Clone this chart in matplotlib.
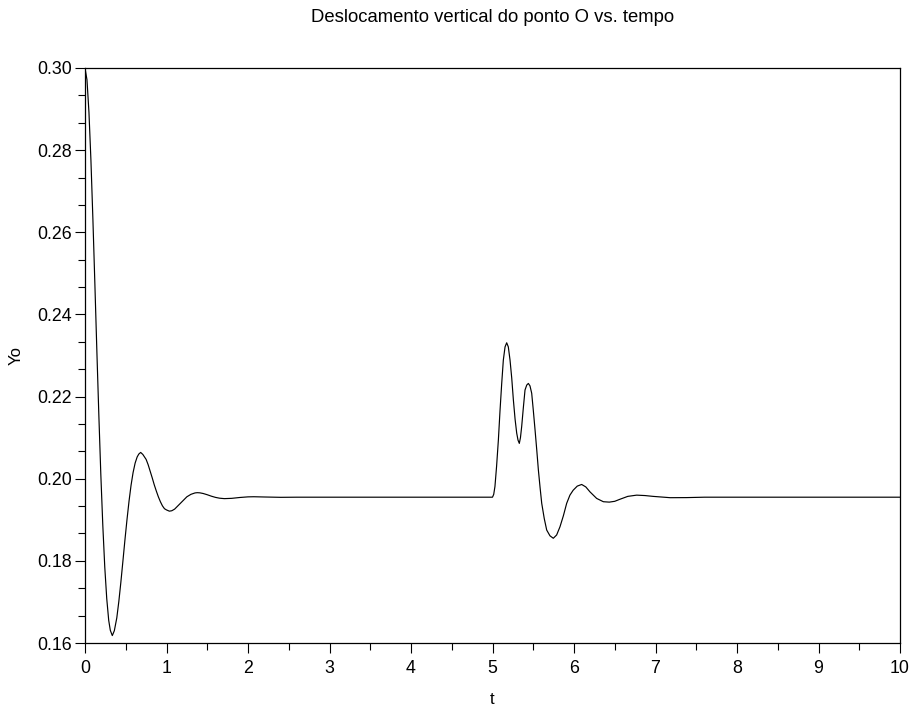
import matplotlib
matplotlib.use("Agg")
import matplotlib.pyplot as plt
from matplotlib.ticker import MultipleLocator, AutoMinorLocator

plt.rcParams['font.family'] = ['Liberation Sans', 'DejaVu Sans']

# first transient (t = 0 .. 2.6)
t_start = [0.0, 0.0243, 0.0485, 0.0728, 0.097, 0.1213, 0.1455, 0.1698, 0.194,
           0.2183, 0.2425, 0.2668, 0.291, 0.3104, 0.335,
           0.36, 0.39, 0.415, 0.44, 0.465, 0.49, 0.515, 0.54, 0.565,
           0.59, 0.615, 0.64, 0.66, 0.683,
           0.71, 0.75, 0.775, 0.80, 0.825, 0.85, 0.875, 0.90, 0.925, 0.95,
           0.975, 1.00, 1.035, 1.065, 1.10, 1.125, 1.15, 1.175, 1.20,
           1.225, 1.25, 1.275, 1.30, 1.35, 1.377, 1.41,
           1.45, 1.50, 1.55, 1.60, 1.65, 1.71,
           1.80, 1.90, 2.00, 2.07, 2.20, 2.40, 2.60]
y_start = [0.3000, 0.2971, 0.2892, 0.2775, 0.2631, 0.2473, 0.2311, 0.2155, 0.2011,
           0.1887, 0.1785, 0.1708, 0.1655, 0.1631, 0.1618,
           0.1630, 0.1661, 0.1701, 0.1748, 0.1799, 0.1851, 0.1900, 0.1945, 0.1984,
           0.2015, 0.2038, 0.2053, 0.2060, 0.2064,
           0.2059, 0.2047, 0.2034, 0.2018, 0.2002, 0.1985, 0.1970, 0.1956, 0.1944, 0.1934,
           0.1927, 0.1924, 0.1921, 0.1922, 0.1926, 0.1931, 0.1936, 0.1941, 0.1946,
           0.1951, 0.1956, 0.1959, 0.1962, 0.19654, 0.1966, 0.19656,
           0.1964, 0.1961, 0.19575, 0.19546, 0.19526, 0.19515,
           0.19522, 0.19543, 0.19558, 0.19561, 0.19555, 0.19547, 0.1955]

# flat part and second disturbance at t = 5
t_event = [5.0, 5.015, 5.03, 5.05, 5.072, 5.092, 5.113, 5.133, 5.154, 5.174,
           5.194, 5.215, 5.236, 5.256, 5.277, 5.297, 5.313, 5.329, 5.343,
           5.358, 5.378, 5.399, 5.42, 5.44, 5.46, 5.481, 5.50, 5.522, 5.543,
           5.563, 5.584, 5.604, 5.635, 5.665, 5.705, 5.746, 5.787, 5.828,
           5.87, 5.91, 5.95, 5.99, 6.04, 6.094, 6.145, 6.196, 6.278, 6.36,
           6.433, 6.50, 6.564, 6.66, 6.769, 6.87, 6.97, 7.18, 7.38, 7.6, 10.0]
y_event = [0.1955, 0.1962, 0.1981, 0.2030, 0.2094, 0.2165, 0.2232, 0.2289, 0.2321, 0.2331,
           0.2321, 0.2289, 0.2245, 0.2192, 0.2145, 0.2111, 0.2094, 0.2086, 0.2100,
           0.2127, 0.2172, 0.2216, 0.2228, 0.2232, 0.2226, 0.2208, 0.2168, 0.2119, 0.2070,
           0.2021, 0.1978, 0.1940, 0.1903, 0.1875, 0.1861, 0.1855, 0.1863, 0.1883,
           0.1910, 0.1940, 0.1960, 0.1972, 0.1982, 0.1986, 0.1980, 0.1968, 0.1952, 0.1944,
           0.1943, 0.1945, 0.1950, 0.1957, 0.1960, 0.1959, 0.1957, 0.19538, 0.1954, 0.1955, 0.1955]

t = t_start + t_event
yo = y_start + y_event

fig = plt.figure(figsize=(9.14, 7.11), dpi=100)
ax = fig.add_axes([85/914, 68/711, 815/914, 575/711])
ax.plot(t, yo, color='black', lw=0.85)

ax.set_xlim(0, 10)
ax.set_ylim(0.16, 0.30)
ax.xaxis.set_major_locator(MultipleLocator(1))
ax.xaxis.set_minor_locator(AutoMinorLocator(2))
ax.yaxis.set_major_locator(MultipleLocator(0.02))
ax.yaxis.set_minor_locator(AutoMinorLocator(3))
ax.yaxis.set_major_formatter(plt.FormatStrFormatter('%.2f'))

ax.tick_params(which='both', direction='out', width=0.8, colors='black',
               top=False, right=False, labelsize=12.8)
ax.tick_params(which='major', length=7.5)
ax.tick_params(which='minor', length=5)
ax.tick_params(axis='x', which='major', pad=5)
ax.tick_params(axis='y', which='major', pad=2)
for s in ax.spines.values():
    s.set_linewidth(0.9)
    s.set_color('black')

ax.set_xlabel('t', fontsize=12)
ax.set_ylabel('Yo', fontsize=12)
ax.xaxis.set_label_coords(0.5, -0.099)
ax.yaxis.set_label_coords(-0.0847, 0.5)
ax.xaxis.label.set_va('center')
ax.yaxis.label.set_va('center')

ax.text(0.5, 1 + 50/575, 'Deslocamento vertical do ponto O vs. tempo',
        transform=ax.transAxes, ha='center', va='center', fontsize=13.3)

fig.savefig('out.png', dpi=100)
